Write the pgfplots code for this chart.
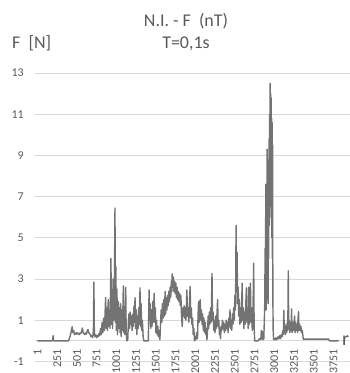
\documentclass[border=0pt]{standalone}
\usepackage{fontspec}
\setmainfont{Carlito}
\usepackage{pgfplots}
\pgfplotsset{compat=1.18}
\definecolor{tickgray}{RGB}{89,89,89}
\definecolor{gridgray}{RGB}{217,217,217}
\definecolor{linegray}{RGB}{115,115,115}
\begin{document}
\begin{tikzpicture}[x=1bp,y=1bp]
\useasboundingbox (0,0) rectangle (350,-373);
\begin{axis}[
  at={(35bp,-73bp)}, anchor=north west,
  scale only axis, width=315bp, height=288.4bp,
  xmin=-30, xmax=3960, ymin=-1, ymax=13,
  axis x line*=middle, axis y line*=left,
  x axis line style={gridgray, line width=0.75bp},
  y axis line style={draw=none},
  major tick length=0pt,
  ytick={-1,1,3,5,7,9,11,13},
  yticklabels={-1,1,3,5,7,9,11,13},
  ymajorgrids, grid style={gridgray, line width=0.75bp},
  xtick={1,251,501,751,1001,1251,1501,1751,2001,2251,2501,2751,3001,3251,3501,3751},
  xticklabels={1,251,501,751,1001,1251,1501,1751,2001,2251,2501,2751,3001,3251,3501,3751},
  xticklabel style={rotate=90, anchor=east, inner sep=8bp, text=tickgray, font=\fontsize{12}{14}\selectfont},
  yticklabel style={anchor=east, inner sep=0pt, xshift=-11bp, text=tickgray, font=\fontsize{12}{14}\selectfont},
  clip=false,
]
\addplot[linegray, line width=1.4bp, line join=round] coordinates {
(1,0) (190,0) (200,0.25) (206,0) (395,0)
(405,0.1) (420,0.3) (440,0.68) (450,0.4) (460,0.5) (470,0.3) (480,0.38) (490,0.32) (500,0.4) (510,0.33) (520,0.36) (530,0.3) (540,0.38) (550,0.35) (560,0.45) (570,0.62) (580,0.4) (590,0.35) (600,0.3) (610,0.38) (620,0.32) (630,0.45) (640,0.55) (650,0.4) (660,0.35) (670,0.3) (680,0.2) (690,0.25) (700,0.15)
(710,0.5) (716,2.85) (722,0.3) (730,0.2) (740,0.3) (750,0.15) (760,0.25) (770,0.2) (780,0.35) (790,0.25) (800,0.6) (810,0.3) (820,0.9) (830,0.4) (840,1.1) (850,0.5) (858,1.4) (865,2.1) (872,0.6) (880,1.6) (888,0.5) (898,2.0) (905,0.7) (912,1.5) (920,0.6) (926,2.2) (932,4.0) (938,0.8) (945,2.5) (952,0.6) (960,3.0) (968,1.0) (975,2.2) (983,6.44) (989,0.9) (995,3.6) (1000,0.5) (1008,2.5) (1015,0.3) (1025,1.9) (1032,0.6) (1040,1.6) (1048,0.4) (1055,1.8) (1062,0.2) (1070,1.5) (1078,0.5) (1089,2.67) (1095,0.4) (1102,1.2) (1108,0.3) (1113,1.5) (1119,2.6) (1125,0.5) (1132,0)
(1145,0.05) (1152,0.8) (1160,1.3) (1168,0.6) (1176,1.4) (1184,0.8) (1192,1.2) (1200,0.5) (1208,1.3) (1216,0.7) (1224,1.7) (1230,0.9) (1237,2.1) (1244,0.6) (1252,1.5) (1260,0.3) (1268,1.2) (1276,0.6) (1284,1.6) (1292,0.8) (1300,2.57) (1306,0.7) (1314,1.8) (1322,0.5) (1330,1.0) (1340,0.2) (1348,0) (1405,0) (1410,1.2) (1415,2.47) (1420,1.0)
(1428,1.8) (1436,0.6) (1444,1.5) (1452,0.7) (1460,1.9) (1468,0.9) (1479,2.3) (1486,0.9) (1494,1.6) (1502,0.4) (1510,1.0) (1518,0.3) (1526,0.7) (1534,0.2) (1542,0.5) (1552,0.05) (1560,0.8) (1568,1.5) (1576,0.9) (1584,1.8) (1592,1.1) (1600,2.0) (1608,1.2) (1618,2.4) (1625,1.3) (1633,2.1) (1641,1.5) (1649,2.2) (1657,1.7) (1665,2.4) (1673,1.9) (1681,2.6) (1689,2.1) (1697,2.9) (1703,2.4) (1708,3.25) (1715,2.6) (1722,3.1) (1730,2.4) (1738,2.9) (1746,2.3) (1754,2.8) (1762,2.1) (1770,2.6) (1778,2.0) (1786,2.4)
(1794,1.9) (1802,2.3) (1810,1.7) (1818,2.2) (1826,1.2) (1835,0.7) (1842,1.6) (1850,1.2) (1858,1.7) (1866,1.1) (1874,1.6) (1882,1.0) (1894,2.47) (1902,1.2) (1910,1.6) (1918,0.9) (1926,1.8) (1935,2.64) (1942,1.1) (1950,1.6) (1958,0.8) (1966,1.1) (1974,0.3) (1982,0.6) (1990,0) (1998,0.2) (2008,0.05) (2018,0.4) (2028,0.1) (2036,1.3) (2042,1.9) (2048,0.9) (2055,1.6) (2063,2.0) (2070,1.0) (2078,1.5) (2086,0.8) (2094,1.3) (2102,0.5) (2110,1.1) (2118,0.4) (2126,0.9) (2134,0.3) (2142,0.6) (2148,0.05) (2156,0.5) (2163,1.2) (2170,0.6) (2178,1.4) (2186,0.8) (2194,1.6) (2202,0.9) (2212,3.28) (2218,1.0) (2226,1.4) (2234,0.5) (2242,1.0) (2250,0.4) (2258,1.2) (2266,0.6) (2275,1.3) (2283,2.0) (2290,0.7) (2298,1.0) (2306,0.3) (2314,0.6) (2320,0.1) (2328,0.7)
(2336,0.5) (2344,1.0) (2352,0.6) (2360,0.9) (2368,0.4) (2376,0.8) (2384,0.5) (2392,1.0) (2400,0.6) (2408,0.9) (2416,0.4) (2424,1.1) (2432,0.7) (2440,1.5) (2446,0.6) (2454,1.0) (2462,0.5) (2470,1.3) (2478,0.8) (2486,1.6) (2494,1.0) (2502,2.2) (2510,1.5) (2517,5.6) (2522,2.4) (2530,4.3) (2536,1.8) (2544,2.6) (2550,1.2) (2558,2.0) (2566,0.8) (2574,1.6) (2582,0.9) (2594,2.8) (2600,1.0) (2608,1.6) (2616,0.6) (2624,1.4) (2632,0.8) (2640,1.8) (2648,2.57) (2655,0.9) (2663,1.5) (2670,0.6) (2677,2.6) (2684,0.8) (2692,1.4) (2699,2.8) (2706,0.9) (2714,1.6) (2722,0.5) (2730,1.2) (2740,3.77) (2746,0.6) (2753,0)
(2800,0) (2810,0.1) (2830,0.05) (2838,0.5) (2845,0.1) (2852,0.45) (2858,0.05) (2868,0.1) (2875,1.0)
(2880,1.8) (2885,4.5) (2890,2.0) (2893,7.6) (2897,1.5) (2901,5.5) (2905,2.0) (2910,9.3) (2914,3.0) (2918,6.0) (2922,1.8) (2926,8.5) (2930,4.0) (2934,9.8) (2938,5.6) (2942,11.0) (2946,6.0) (2949,12.5) (2952,7.0) (2955,12.0) (2958,8.0) (2961,11.8) (2964,6.5) (2967,10.8) (2970,5.0) (2973,10.6) (2976,4.0) (2979,9.5) (2983,2.0) (2987,0.5) (2992,0.05)
(3000,0.1) (3010,0.05) (3020,0.15) (3030,0.05) (3040,0.1) (3050,0.2) (3060,0.1) (3070,0.25) (3080,0.1) (3090,0.3) (3100,0.2) (3110,0.5) (3116,0.3) (3122,1.47) (3128,0.4) (3135,0.8) (3142,0.3) (3150,0.7) (3158,0.4) (3165,0.9) (3172,0.5) (3178,3.4) (3184,0.6) (3190,1.0) (3198,0.4) (3206,0.9) (3214,0.5) (3220,1.55) (3226,0.4) (3234,0.9) (3242,0.5) (3250,0.8) (3258,1.2) (3264,0.4) (3272,0.9) (3280,0.5) (3288,0.8) (3296,0.4) (3302,1.1) (3308,1.42) (3314,0.5) (3322,0.8) (3330,0.5) (3338,0.7) (3346,0.4) (3355,0.5) (3362,0.3) (3368,0.08)
(3690,0.08) (3700,0) (3815,0)
};
\end{axis}
\node[anchor=base, text=tickgray, font=\fontsize{18}{21}\selectfont] at (186,-26) {N.I. - F\ \ (nT)};
\node[anchor=base, text=tickgray, font=\fontsize{18}{21}\selectfont] at (186,-48) {T=0,1s};
\node[anchor=base west, inner sep=0pt, text=tickgray, font=\fontsize{18}{21}\selectfont] at (12,-48) {F\ \ [N]};
\node[anchor=base west, inner sep=0pt, text=tickgray, font=\fontsize{20}{22}\selectfont] at (342,-345) {r};
\end{tikzpicture}
\end{document}
